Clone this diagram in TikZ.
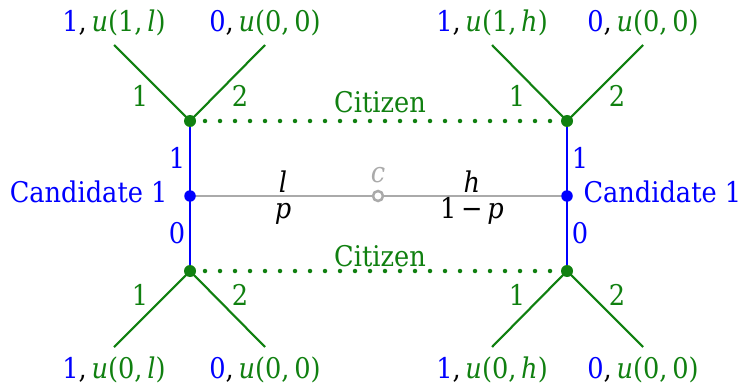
\documentclass[tikz,border=0pt]{standalone}
\usepackage{fontspec}
\setmainfont{DejaVu Serif}[FakeStretch=0.9]
\usetikzlibrary{backgrounds}
\definecolor{tgreen}{RGB}{16,128,16}
\definecolor{tblue}{RGB}{0,0,255}
\definecolor{tgray}{RGB}{170,170,170}
\tikzset{
  gdot/.style={circle,fill=tgreen,inner sep=0pt,minimum size=4.8pt},
  bdot/.style={circle,fill=tblue,inner sep=0pt,minimum size=4.6pt},
  cdot/.style={circle,draw=tgray,fill=white,line width=1pt,inner sep=0pt,minimum size=4pt},
  gline/.style={tgreen,line width=0.85pt},
  bline/.style={tblue,line width=1.1pt},
  grline/.style={tgray,line width=1.1pt},
  infoset/.style={tgreen,line width=1.8pt,line cap=round,dash pattern=on 0pt off 6pt},
  lbl/.style={inner sep=0pt,anchor=base},
  glbl/.style={lbl,text=tgreen},
  blbl/.style={lbl,text=tblue},
}
\newcommand{\pay}[2]{\textcolor{tblue}{#1},\,\textcolor{tgreen}{#2}}
\begin{document}
\begin{tikzpicture}[x=0.4pt,y=-0.4pt,font=\fontsize{11.4}{13}\selectfont]
\useasboundingbox (0,0) rectangle (739,386);
% decision nodes
\node[gdot] (TL) at (190,121) {};
\node[gdot] (TR) at (567,121) {};
\node[bdot] (CL) at (190,196) {};
\node[bdot] (CR) at (567,196) {};
\node[gdot] (BL) at (190,271) {};
\node[gdot] (BR) at (567,271) {};
\node[cdot] (C) at (378,196) {};
% leaf ends
\coordinate (TL1) at (114,45);
\coordinate (TL2) at (265,45);
\coordinate (TR1) at (492,45);
\coordinate (TR2) at (643,45);
\coordinate (BL1) at (114,347);
\coordinate (BL2) at (265,347);
\coordinate (BR1) at (492,347);
\coordinate (BR2) at (643,347);
\begin{pgfonlayer}{background}
\draw[gline] (TL.center) -- (TL1);
\draw[gline] (TL.center) -- (TL2);
\draw[gline] (TR.center) -- (TR1);
\draw[gline] (TR.center) -- (TR2);
\draw[gline] (BL.center) -- (BL1);
\draw[gline] (BL.center) -- (BL2);
\draw[gline] (BR.center) -- (BR1);
\draw[gline] (BR.center) -- (BR2);
\draw[infoset] (TL.center) -- (TR.center);
\draw[infoset] (BL.center) -- (BR.center);
\draw[bline] (TL.center) -- (BL.center);
\draw[bline] (TR.center) -- (BR.center);
\draw[grline] (CL.center) -- (C);
\draw[grline] (C) -- (CR.center);
\end{pgfonlayer}
% payoffs
\node[lbl] (pTL1) at (114,32) {\pay{1}{\textit{u}(1,\,\textit{l})}};
\node[lbl] (pTL2) at (265,32) {\pay{0}{\textit{u}(0,\,0)}};
\node[lbl] (pTR1) at (492,32) {\pay{1}{\textit{u}(1,\,\textit{h})}};
\node[lbl] (pTR2) at (643,32) {\pay{0}{\textit{u}(0,\,0)}};
\node[lbl] (pBL1) at (114,378) {\pay{1}{\textit{u}(0,\,\textit{l})}};
\node[lbl] (pBL2) at (265,378) {\pay{0}{\textit{u}(0,\,0)}};
\node[lbl] (pBR1) at (492,378) {\pay{1}{\textit{u}(0,\,\textit{h})}};
\node[lbl] (pBR2) at (643,378) {\pay{0}{\textit{u}(0,\,0)}};
% branch labels
\node[glbl] (a1) at (140,107) {1};
\node[glbl] (a2) at (240,107) {2};
\node[glbl] (a3) at (517,107) {1};
\node[glbl] (a4) at (617,107) {2};
\node[glbl] (a5) at (140,305) {1};
\node[glbl] (a6) at (240,305) {2};
\node[glbl] (a7) at (517,305) {1};
\node[glbl] (a8) at (617,305) {2};
\node[glbl] (cit1) at (380,113) {Citizen};
\node[glbl] (cit2) at (380,266) {Citizen};
% candidate labels
\node[blbl] (b1) at (177,168) {1};
\node[blbl] (b0) at (177,243) {0};
\node[blbl] (b3) at (580,168) {1};
\node[blbl] (b2) at (580,243) {0};
\node[blbl,anchor=base east] (candL) at (168,203) {Candidate 1};
\node[blbl,anchor=base west] (candR) at (583,203) {Candidate 1};
% chance labels
\node[lbl] (ll) at (283,193) {\textit{l}};
\node[lbl] (lp) at (283,218) {\textit{p}};
\node[lbl] (lh) at (472,193) {\textit{h}};
\node[lbl] (lq) at (472,218) {1\,−\,\textit{p}};
\node[lbl,text=tgray] (lc) at (378,182) {\textit{c}};
\end{tikzpicture}
\end{document}
